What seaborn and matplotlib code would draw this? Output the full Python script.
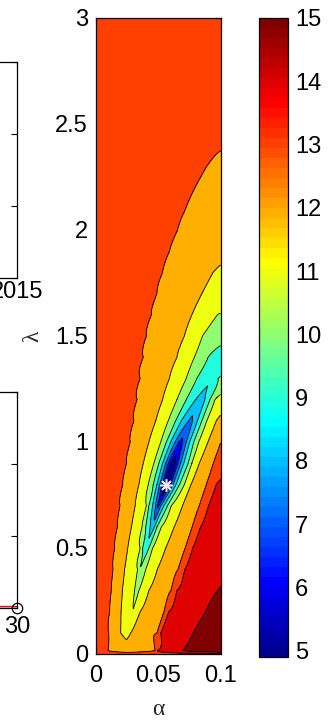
import numpy as np
import pandas as pd
import matplotlib
matplotlib.use("Agg")
import matplotlib.pyplot as plt
import seaborn as sns
from matplotlib.colors import ListedColormap, Normalize
from matplotlib.cm import ScalarMappable

sns.set_style("white")
plt.rcParams['font.family'] = ['Liberation Sans', 'DejaVu Sans']

# ---------------- data ----------------
# rows of lambda at which the contour crossings (alpha positions) were read
LAMBDA_ROWS = [0.0, 0.015, 0.1, 0.2, 0.3, 0.4, 0.5, 0.6, 0.7, 0.8, 0.9, 1.0, 1.1, 1.2, 1.3,
               1.4, 1.5, 1.6, 1.7, 1.8, 1.9, 2.0, 2.1, 2.2, 2.3, 2.4, 2.6, 2.8, 3.0]
# valley floor: position and value per row
VALLEY_ALPHA = [0.024, 0.026, 0.0235, 0.0295, 0.0325, 0.0352, 0.040, 0.0455, 0.050, 0.0565,
                0.062, 0.068, 0.0755, 0.0835, 0.093, 0.104, 0.114, 0.124, 0.134, 0.144,
                0.154, 0.164, 0.174, 0.184, 0.194, 0.204, 0.224, 0.244, 0.264]
VALLEY_VALUE = [None, 12.4, 11.75, 11.05, 10.6, 10.05, 9.4, 8.5, 6.8, 4.98, 5.6, 6.8, 7.8, 8.6,
                9.2, None, None, None, None, None, None, None, None, None, None, None, None,
                None, None]
EDGE_LEFT = [13.6] * 29
EDGE_RIGHT = [13.6, 15.9, 15.8, 15.6, 15.05, 14.85, 14.7, 14.5, 14.3, 14.2, 13.6, 13.0, 12.4,
              11.6, 10.1, 9.6, 10.15, 10.95, 11.35, 11.8, 12.15, 12.35, 12.5, 12.7, 12.85,
              13.02, 13.15, 13.25, 13.35]
N = None
# alpha where the contour of each level crosses a row, left of the valley floor
LEFT_13 = [N, 0.0096, 0.0102, 0.011, 0.0123, 0.0137, 0.015, 0.0172, 0.0193, 0.0215, 0.0245,
           0.0275, 0.0305, 0.033, 0.0355, 0.038, 0.0405, 0.0445, 0.049, 0.0535, 0.059, 0.0655,
           0.072, 0.0795, 0.0889, N, N, N, N]
LEFT_12 = [N, N, 0.0198, 0.0201, 0.0212, 0.023, 0.0255, 0.0285, 0.0315, 0.0345, 0.038, 0.0425,
           0.048, 0.0535, 0.059, 0.065, 0.071, 0.077, 0.085, 0.094, N, N, N, N, N, N, N, N, N]
LEFT_11 = [N, N, N, N, 0.031, 0.0335, 0.0355, 0.037, 0.0405, 0.042, 0.0465, 0.052, 0.058,
           0.065, 0.0725, 0.079, 0.0855, 0.0975, N, N, N, N, N, N, N, N, N, N, N]
LEFT_10 = [N, N, N, N, N, N, 0.0375, 0.040, 0.0425, 0.046, 0.0505, 0.0565, 0.064, 0.0725,
           0.081, 0.09, N, N, N, N, N, N, N, N, N, N, N, N, N]
LEFT_9 = [N, N, N, N, N, N, N, 0.0435, 0.0455, 0.049, 0.0535, 0.060, 0.0685, 0.080, N, N, N,
          N, N, N, N, N, N, N, N, N, N, N, N]
LEFT_8 = [N, N, N, N, N, N, N, N, 0.048, 0.0512, 0.056, 0.0635, 0.0745, N, N, N, N, N, N, N,
          N, N, N, N, N, N, N, N, N]
LEFT_7 = [N, N, N, N, N, N, N, N, 0.0495, 0.053, 0.058, 0.0665, N, N, N, N, N, N, N, N, N, N,
          N, N, N, N, N, N, N]
LEFT_6 = [N, N, N, N, N, N, N, N, N, 0.0545, 0.0602, N, N, N, N, N, N, N, N, N, N, N, N, N,
          N, N, N, N, N]
# ... and right of the valley floor
RIGHT_6 = [N, N, N, N, N, N, N, N, N, 0.0585, 0.0638, N, N, N, N, N, N, N, N, N, N, N, N, N,
           N, N, N, N, N]
RIGHT_7 = [N, N, N, N, N, N, N, N, 0.0505, 0.0602, 0.0658, 0.0695, N, N, N, N, N, N, N, N, N,
           N, N, N, N, N, N, N, N]
RIGHT_8 = [N, N, N, N, N, N, N, N, 0.052, 0.062, 0.068, 0.0725, 0.0775, N, N, N, N, N, N, N,
           N, N, N, N, N, N, N, N, N]
RIGHT_9 = [N, N, N, N, N, N, N, 0.047, 0.0545, 0.0643, 0.0705, 0.0752, 0.0815, 0.0875, N, N,
           N, N, N, N, N, N, N, N, N, N, N, N, N]
RIGHT_10 = [N, N, N, N, N, N, 0.0425, 0.049, 0.0575, 0.0672, 0.074, 0.0785, 0.085, 0.0915,
            0.098, N, N, N, N, N, N, N, N, N, N, N, N, N, N]
RIGHT_11 = [N, N, N, N, 0.0345, 0.040, 0.0455, 0.0525, 0.0605, 0.071, 0.077, 0.0825, 0.089,
            0.0955, N, N, N, N, N, N, N, N, N, N, N, N, N, N, N]
RIGHT_12 = [N, N, 0.028, 0.0355, 0.0425, 0.0493, 0.056, 0.0628, 0.0695, 0.0763, 0.083, 0.0899,
            0.0966, N, N, N, N, N, N, N, N, N, N, N, N, N, N, N, N]
RIGHT_13 = [N, 0.0475, 0.049, 0.0547, 0.0603, 0.066, 0.0717, 0.0773, 0.083, 0.0887, 0.0943, N,
            N, N, N, N, N, N, N, N, N, N, N, N, N, N, N, N, N]
RIGHT_14 = [N, 0.049, 0.052, 0.0585, 0.065, 0.0713, 0.0777, 0.084, 0.0904, 0.0967, N, N, N, N,
            N, N, N, N, N, N, N, N, N, N, N, N, N, N, N]
RIGHT_15 = [N, 0.0695, 0.078, 0.088, 0.098, N, N, N, N, N, N, N, N, N, N, N, N, N, N, N, N, N,
            N, N, N, N, N, N, N]
LEFT = {13: LEFT_13, 12: LEFT_12, 11: LEFT_11, 10: LEFT_10, 9: LEFT_9, 8: LEFT_8, 7: LEFT_7,
        6: LEFT_6}
RIGHT = {6: RIGHT_6, 7: RIGHT_7, 8: RIGHT_8, 9: RIGHT_9, 10: RIGHT_10, 11: RIGHT_11,
         12: RIGHT_12, 13: RIGHT_13, 14: RIGHT_14, 15: RIGHT_15}
MIN_POINT = (0.0565, 0.795)

X_TICKS = [0, 0.05, 0.1]
X_TICK_LABELS = ["0", "0.05", "0.1"]
Y_TICKS = [0, 0.5, 1, 1.5, 2, 2.5, 3]
Y_TICK_LABELS = ["0", "0.5", "1", "1.5", "2", "2.5", "3"]
CBAR_TICKS = [5, 6, 7, 8, 9, 10, 11, 12, 13, 14, 15]
CLIM = (4.9, 15.0)
FILL_LEVELS = [0, 6, 7, 8, 9, 10, 11, 12, 13, 14, 15, 30]
LINE_LEVELS = [6, 7, 8, 9, 10, 11, 12, 13, 14, 15]

# neighbouring (cut-off) panels
YEAR_TICKS = [1990, 1995, 2000, 2005, 2010, 2015]
ITER = [28, 29, 30]
RED_SERIES = [0.015, 0.015, 0.015]
BLUE_SERIES = [0.0, 0.0, 0.0]
ITER_TICKS = [0, 5, 10, 15, 20, 25, 30]

# ---------------- build the surface from the crossings ----------------
lam = np.array(LAMBDA_ROWS)
u_grid = np.linspace(-0.35, 0.35, 2801)
prof = np.empty((lam.size, u_grid.size))
for i in range(lam.size):
    pts = [(0.0, EDGE_LEFT[i])]
    for lev, arr in LEFT.items():
        if arr[i] is not None:
            pts.append((arr[i], lev))
    if VALLEY_VALUE[i] is not None and VALLEY_ALPHA[i] < 0.1:
        pts.append((VALLEY_ALPHA[i], VALLEY_VALUE[i]))
    for lev, arr in RIGHT.items():
        if arr[i] is not None:
            pts.append((arr[i], lev))
    pts.append((0.1, EDGE_RIGHT[i]))
    pts.sort()
    a, z = np.array(pts).T
    prof[i] = np.interp(u_grid + VALLEY_ALPHA[i], a, z)

lam_f = np.linspace(0, 3, 901)
alpha_f = np.linspace(0, 0.1, 501)
cen_f = np.interp(lam_f, lam, VALLEY_ALPHA)
k = np.clip(np.searchsorted(lam, lam_f, side='right') - 1, 0, lam.size - 2)
w = ((lam_f - lam[k]) / (lam[k + 1] - lam[k]))[:, None]
prof_f = prof[k] * (1 - w) + prof[k + 1] * w
Z = np.array([np.interp(alpha_f - cen_f[j], u_grid, prof_f[j]) for j in range(lam_f.size)])

# ---------------- MATLAB jet(64) ----------------
def matlab_jet(m=64):
    n = int(np.ceil(m / 4))
    u = np.concatenate([np.arange(1, n + 1) / n, np.ones(n - 1), np.arange(n, 0, -1) / n])
    g = int(np.ceil(n / 2)) - (1 if m % 4 == 1 else 0) + np.arange(1, u.size + 1)
    r = g + n
    b = g - n
    g = g[g <= m]
    r = r[r <= m]
    b = b[b >= 1]
    J = np.zeros((m, 3))
    J[r - 1, 0] = u[:r.size]
    J[g - 1, 1] = u[:g.size]
    J[b - 1, 2] = u[u.size - b.size:]
    return J

JET = matlab_jet(64)
def level_color(v, lo=CLIM[0], hi=CLIM[1], m=64):
    idx = int(np.floor((v - lo) / (hi - lo) * m))
    return JET[min(max(idx, 0), m - 1)]

band_colors = [level_color(5)] + [level_color(v) for v in FILL_LEVELS[1:-1]]

# ---------------- figure ----------------
W, H = 335, 722
fig = plt.figure(figsize=(W / 100, H / 100), dpi=100)
fig.patch.set_facecolor('white')

def px_axes(left, top, right, bottom):
    return fig.add_axes([left / W, (H - bottom) / H, (right - left) / W, (bottom - top) / H])

FS = 17
tick_kw = dict(direction='in', length=4, width=0.8, top=True, right=True,
               labelsize=FS, pad=5.8, colors='black')

ax = px_axes(96, 18, 220.5, 654)
ax.contourf(alpha_f, lam_f, Z, levels=FILL_LEVELS, colors=band_colors)
ax.contour(alpha_f, lam_f, Z, levels=LINE_LEVELS, colors='black', linewidths=0.6)
ax.plot([MIN_POINT[0]], [MIN_POINT[1]], marker=(8, 2, 0), ms=9, mew=1.1,
        color='#f4e6ee', linestyle='none')
ax.set_xlim(0, 0.1)
ax.set_ylim(0, 3)
ax.set_xticks(X_TICKS)
ax.set_xticklabels(X_TICK_LABELS)
ax.set_yticks(Y_TICKS)
ax.set_yticklabels(Y_TICK_LABELS)
ax.tick_params(**tick_kw)
ax.tick_params(axis='x', pad=8)
for s in ax.spines.values():
    s.set_linewidth(0.9)
    s.set_color('black')
ax.set_xlabel('α', fontsize=FS, family=['Liberation Serif', 'DejaVu Serif'])
ax.xaxis.set_label_coords(0.5, -0.0715)
ax.set_ylabel('λ', fontsize=FS, family=['Liberation Serif', 'DejaVu Serif'])
ax.yaxis.set_label_coords(-0.425, 0.5)

# colorbar
cax = px_axes(259, 18, 288, 657)
sm = ScalarMappable(norm=Normalize(*CLIM), cmap=ListedColormap(JET))
cb = fig.colorbar(sm, cax=cax, ticks=CBAR_TICKS)
cb.outline.set_linewidth(0.9)
cb.outline.set_edgecolor('black')
cax.tick_params(direction='in', length=5, width=0.8, left=True, right=True,
                labelsize=FS, pad=5, colors='black')

# cut-off neighbouring panels on the left
ax1 = px_axes(-335, 62, 17.3, 277.5)
ax1.set_xlim(YEAR_TICKS[0], YEAR_TICKS[-1])
ax1.set_ylim(0, 3)
ax1.set_xticks(YEAR_TICKS)
ax1.set_yticks([0, 1, 2, 3])
ax1.set_yticklabels([])
ax1.tick_params(**tick_kw)
ax1.tick_params(axis='x', pad=2.5)
for s in ax1.spines.values():
    s.set_linewidth(0.9)
    s.set_color('black')

ax2 = px_axes(-335, 392, 17.3, 607.5)
df = pd.DataFrame({'iter': ITER * 2,
                   'value': BLUE_SERIES + RED_SERIES,
                   'series': ['blue'] * len(ITER) + ['red'] * len(ITER)})
sns.lineplot(data=df, x='iter', y='value', hue='series', palette={'blue': '#0000ff', 'red': '#ff0000'},
             legend=False, ax=ax2, linewidth=1.0)
ax2.plot([ITER[-1]], [BLUE_SERIES[-1]], marker='o', ms=7.5, mfc='none', mec='black',
         mew=0.9, clip_on=False, linestyle='none')
ax2.set_xlim(ITER_TICKS[0], ITER_TICKS[-1])
ax2.set_ylim(0, 3)
ax2.set_xticks(ITER_TICKS)
ax2.set_yticks([0, 1, 2, 3])
ax2.set_yticklabels([])
ax2.set_xlabel('')
ax2.set_ylabel('')
ax2.tick_params(**tick_kw)
for s in ax2.spines.values():
    s.set_linewidth(0.9)
    s.set_color('black')

fig.savefig('out.png', dpi=100, facecolor='white')
